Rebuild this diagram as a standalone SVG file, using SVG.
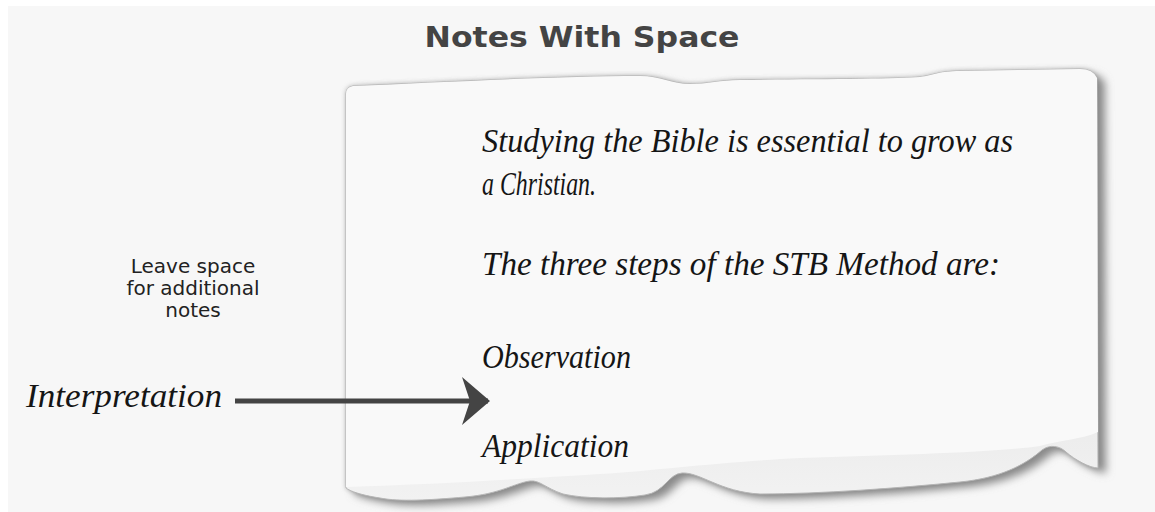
<svg xmlns="http://www.w3.org/2000/svg" width="1155" height="512" viewBox="0 0 1155 512">
  <style>
    .title { font-family: "DejaVu Sans", "Liberation Sans", sans-serif; font-weight: bold; font-size: 29px; fill: #444444; }
    .note { font-family: "DejaVu Sans", "Liberation Sans", sans-serif; font-size: 20px; fill: #222222; }
    .script { font-family: "Liberation Serif", "DejaVu Serif", serif; font-style: italic; font-size: 34px; fill: #151515; }
  </style>
  <defs>
    <filter id="blurSoft" x="-5%" y="-10%" width="110%" height="120%">
      <feGaussianBlur stdDeviation="2.5"/>
    </filter>
    <filter id="blurHard" x="-5%" y="-10%" width="110%" height="120%">
      <feGaussianBlur stdDeviation="4"/>
    </filter>
    <linearGradient id="bandGrad" x1="0" y1="0" x2="0" y2="1">
      <stop offset="0" stop-color="#c8c8c8"/>
      <stop offset="0.55" stop-color="#e2e2e2"/>
      <stop offset="1" stop-color="#f2f2f2"/>
    </linearGradient>
    <marker id="arrowHead" viewBox="0 0 30 48" refX="26" refY="24" markerWidth="30" markerHeight="48" markerUnits="userSpaceOnUse" orient="auto">
      <path d="M0 0 L28 24 L0 48 L8 24 Z" fill="#444444"/>
    </marker>
  </defs>

  <rect x="0" y="0" width="1155" height="512" fill="#ffffff"/>
  <rect x="8" y="6" width="1147" height="506" fill="#f7f7f7"/>

  <g id="title">
    <text class="title" x="582" y="47" text-anchor="middle" textLength="315" lengthAdjust="spacingAndGlyphs">Notes With Space</text>
  </g>

  <g id="paper">
    <path d="M346 94 Q346 87 353 86 C450 82 560 76 640 76 C660 76 672 84 690 84 C708 84 720 80 740 80 C820 79 900 79 920 77 C934 75 940 71 960 71 L1080 69 Q1093 69 1097 78 L1098 468 C1090 468 1075 460 1066 452 C1060 446 1050 444 1042 450 C1025 465 1000 478 960 482 C900 488 820 494 760 494 C720 492 700 472 682 473 C668 474 665 492 645 495 C620 499 585 499 563 494 C545 488 540 480 530 481 C515 483 500 494 465 497 C430 500 400 502 380 498 C360 495 350 491 346 488 Z" fill="#a8a8a8" filter="url(#blurSoft)"/>
    <path d="M346 94 Q346 87 353 86 C450 82 560 76 640 76 C660 76 672 84 690 84 C708 84 720 80 740 80 C820 79 900 79 920 77 C934 75 940 71 960 71 L1080 69 Q1093 69 1097 78 L1098 468 C1090 468 1075 460 1066 452 C1060 446 1050 444 1042 450 C1025 465 1000 478 960 482 C900 488 820 494 760 494 C720 492 700 472 682 473 C668 474 665 492 645 495 C620 499 585 499 563 494 C545 488 540 480 530 481 C515 483 500 494 465 497 C430 500 400 502 380 498 C360 495 350 491 346 488 Z" fill="#8a8a8a" filter="url(#blurHard)" transform="translate(8 5)"/>
    <path d="M346 94 Q346 87 353 86 C450 82 560 76 640 76 C660 76 672 84 690 84 C708 84 720 80 740 80 C820 79 900 79 920 77 C934 75 940 71 960 71 L1080 69 Q1093 69 1097 78 L1098 468 C1090 468 1075 460 1066 452 C1060 446 1050 444 1042 450 C1025 465 1000 478 960 482 C900 488 820 494 760 494 C720 492 700 472 682 473 C668 474 665 492 645 495 C620 499 585 499 563 494 C545 488 540 480 530 481 C515 483 500 494 465 497 C430 500 400 502 380 498 C360 495 350 491 346 488 Z" fill="url(#bandGrad)" stroke="#b5b5b5" stroke-width="1"/>
    <path d="M346 94 Q346 87 353 86 C450 82 560 76 640 76 C660 76 672 84 690 84 C708 84 720 80 740 80 C820 79 900 79 920 77 C934 75 940 71 960 71 L1080 69 Q1093 69 1097 78 L1098 432 C1080 440 1060 440 1040 446 C1000 452 900 455 800 458 C720 462 660 470 600 474 C520 479 440 484 346 487 Z" fill="#f9f9f9"/>
  </g>

  <g id="notes-text">
    <text class="script" x="482" y="152" textLength="531" lengthAdjust="spacingAndGlyphs">Studying the Bible is essential to grow as</text>
    <text class="script" x="482" y="195" textLength="114" lengthAdjust="spacingAndGlyphs">a Christian.</text>
    <text class="script" x="482" y="275" textLength="518" lengthAdjust="spacingAndGlyphs">The three steps of the STB Method are:</text>
    <text class="script" x="482" y="368" textLength="149" lengthAdjust="spacingAndGlyphs">Observation</text>
    <text class="script" x="482" y="457" textLength="147" lengthAdjust="spacingAndGlyphs">Application</text>
  </g>

  <g id="side-note">
    <text class="note" text-anchor="middle" x="193" y="273">Leave space</text>
    <text class="note" text-anchor="middle" x="193" y="295">for additional</text>
    <text class="note" text-anchor="middle" x="193" y="317">notes</text>
  </g>

  <g id="interpretation">
    <text class="script" x="26" y="407" textLength="196" lengthAdjust="spacingAndGlyphs">Interpretation</text>
  </g>

  <g id="connectors">
    <line x1="235" y1="401" x2="488" y2="401" stroke="#444444" stroke-width="5" marker-end="url(#arrowHead)"/>
  </g>
</svg>
